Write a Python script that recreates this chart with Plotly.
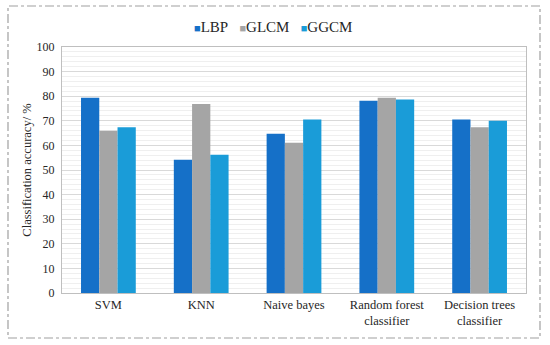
import plotly.graph_objects as go

categories = ["SVM", "KNN", "Naive bayes", "Random forest<br>classifier", "Decision trees<br>classifier"]
lbp = [79.4, 54.2, 64.7, 78.2, 70.5]
glcm = [66.0, 76.8, 61.1, 79.4, 67.4]
ggcm = [67.4, 56.2, 70.5, 78.7, 70.0]
series_names = ["LBP", "GLCM", "GGCM"]
colors = ["#1570C8", "#A5A5A5", "#1A9CD8"]
yticks = [0, 10, 20, 30, 40, 50, 60, 70, 80, 90, 100]

font = "Liberation Serif"
txt = "#262626"

fig = go.Figure()
for name, vals, c in zip(series_names, [lbp, glcm, ggcm], colors):
    fig.add_trace(go.Bar(x=categories, y=vals, name=name, showlegend=False,
                         marker=dict(color=c, line=dict(width=0))))

L, R, T, B = 62, 526, 47, 293
W, H = 550, 345
pw, ph = R - L, B - T

fig.update_layout(
    width=W, height=H,
    paper_bgcolor="white", plot_bgcolor="white",
    margin=dict(l=L, r=W - R, t=T, b=H - B, autoexpand=False),
    barmode="group", bargap=0.41, bargroupgap=0,
    font=dict(family=font, size=12, color=txt),
    showlegend=False,
    xaxis=dict(showgrid=False, showline=True, linecolor="#BFBFBF", linewidth=1, mirror=True,
               tickfont=dict(family=font, size=12.5, color=txt), ticks="", automargin=False),
    yaxis=dict(range=[0, 100], tickvals=yticks, showgrid=True, gridcolor="#D9D9D9", gridwidth=1,
               minor=dict(dtick=2, showgrid=True, gridcolor="#EFEFEF", gridwidth=1),
               showline=True, linecolor="#BFBFBF", linewidth=1, mirror=True,
               tickfont=dict(family=font, size=12, color=txt), ticks="", ticklen=0,
               ticklabelstandoff=4,
               title=dict(text="Classification accuracy/ %", font=dict(family=font, size=12.5, color=txt), standoff=2),
               zeroline=False, automargin=False),
)

# legend drawn as a text row (small squares close to labels, as in the reference)
legend_html = "&nbsp;&nbsp;&nbsp;".join(
    f"<span style='color:{c};font-size:11px'>■</span>{n}" for n, c in zip(series_names, colors)
)
fig.add_annotation(text=legend_html, xref="paper", yref="paper",
                   x=(273 - L) / pw, y=1 + (T - 27) / ph, xanchor="center", yanchor="middle",
                   showarrow=False, font=dict(family=font, size=15, color=txt))

fig.add_shape(type="rect", xref="paper", yref="paper",
              x0=(8 - L) / pw, x1=(540 - L) / pw, y0=-(338 - B) / ph, y1=1 + (T - 6) / ph,
              line=dict(color="#A0A0A0", width=1.2, dash="dashdot"), layer="above")

fig.write_html("out.html", config={"displayModeBar": False},
               post_script="document.body.style.margin='0';document.body.style.padding='0';")
